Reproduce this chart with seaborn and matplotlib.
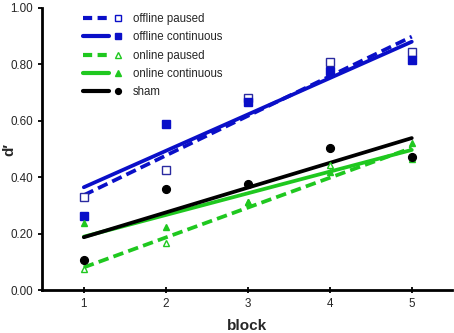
import numpy as np
import pandas as pd
import seaborn as sns
import matplotlib
matplotlib.use("Agg")
import matplotlib.pyplot as plt
from matplotlib.lines import Line2D
from matplotlib.legend_handler import HandlerBase

blocks = [1, 2, 3, 4, 5]
offline_paused = [0.331, 0.426, 0.680, 0.807, 0.843]
offline_continuous = [0.264, 0.589, 0.668, 0.775, 0.816]
online_paused = [0.073, 0.168, 0.311, 0.445, 0.464]
online_continuous = [0.237, 0.223, 0.312, 0.420, 0.523]
sham = [0.106, 0.357, 0.377, 0.502, 0.473]
yticks = [0.0, 0.2, 0.4, 0.6, 0.8, 1.0]

BLUE = "#0a0fc8"
GREEN = "#1fc81f"
BLACK = "#000000"

series = [
    ("offline paused", offline_paused, BLUE, "--", "s", False),
    ("offline continuous", offline_continuous, BLUE, "-", "s", True),
    ("online paused", online_paused, GREEN, "--", "^", False),
    ("online continuous", online_continuous, GREEN, "-", "^", True),
    ("sham", sham, BLACK, "-", "o", True),
]

sns.set_style("ticks")
plt.rcParams["font.family"] = ["Liberation Sans", "DejaVu Sans"]

fig = plt.figure(figsize=(4.54, 3.33), dpi=100)
ax = fig.add_axes([0.0925, 0.129, 0.903, 0.847])

lw = 2.7
msizes = {"s": 5.2, "^": 5.0, "o": 5.6}
for name, vals, col, ls, mk, filled in series:
    df = pd.DataFrame({"block": blocks, "d": vals})
    line_kws = dict(color=col, lw=lw, ls=ls, zorder=3)
    if ls == "--":
        line_kws["dashes"] = (2.8, 1.4)
    sns.regplot(data=df, x="block", y="d", ax=ax, ci=None, scatter=False,
                truncate=True, line_kws=line_kws)
    ax.plot(blocks, vals, ls="none", marker=mk, ms=msizes[mk],
            mfc=col if filled else "white",
            mec=col if (filled or col != BLUE) else "#2a2aa0",
            mew=1.0, zorder=4)

ax.set_xlim(0.49, 5.49)
ax.set_ylim(0, 1.0)
ax.set_xticks(blocks)
ax.set_yticks(yticks)
ax.set_yticklabels([f"{v:.2f}" for v in yticks])
ax.set_xlabel("block", fontsize=11, fontweight="bold", labelpad=6)
ax.set_ylabel("d\u2032", fontsize=11, fontweight="bold")
ax.yaxis.set_label_coords(-0.062, 0.50)
ax.tick_params(axis="both", labelsize=8.4, width=1.3, length=3, color="black")
ax.tick_params(axis="x", direction="inout", length=5)
for s in ["top", "right"]:
    ax.spines[s].set_visible(False)
for s in ["left", "bottom"]:
    ax.spines[s].set_linewidth(2)
    ax.spines[s].set_color("black")


class LineMarkerHandler(HandlerBase):
    def create_artists(self, legend, orig_handle, xdescent, ydescent,
                       width, height, fontsize, trans):
        col, ls, mk, filled = orig_handle
        y = height / 2 - ydescent
        x0 = -xdescent
        l = Line2D([x0, x0 + width * 0.67], [y, y], color=col, lw=3.0, ls=ls)
        if ls == "--":
            l.set_dashes((2.2, 1.3))
        m = Line2D([x0 + width * 0.9], [y], ls="none", marker=mk, ms=4.2,
                   mfc=col if filled else "white", mec=col, mew=1.0)
        l.set_transform(trans)
        m.set_transform(trans)
        return [l, m]


handles = [(col, ls, mk, filled) for name, vals, col, ls, mk, filled in series]
labels = [s[0] for s in series]
ax.legend(handles, labels, handler_map={tuple: LineMarkerHandler()},
          loc="upper left", bbox_to_anchor=(0.1, 0.982), frameon=False,
          borderpad=0, borderaxespad=0,
          fontsize=8.3, handlelength=3.4, handletextpad=0.95, labelspacing=0.55)

fig.savefig("out.png", dpi=100)
